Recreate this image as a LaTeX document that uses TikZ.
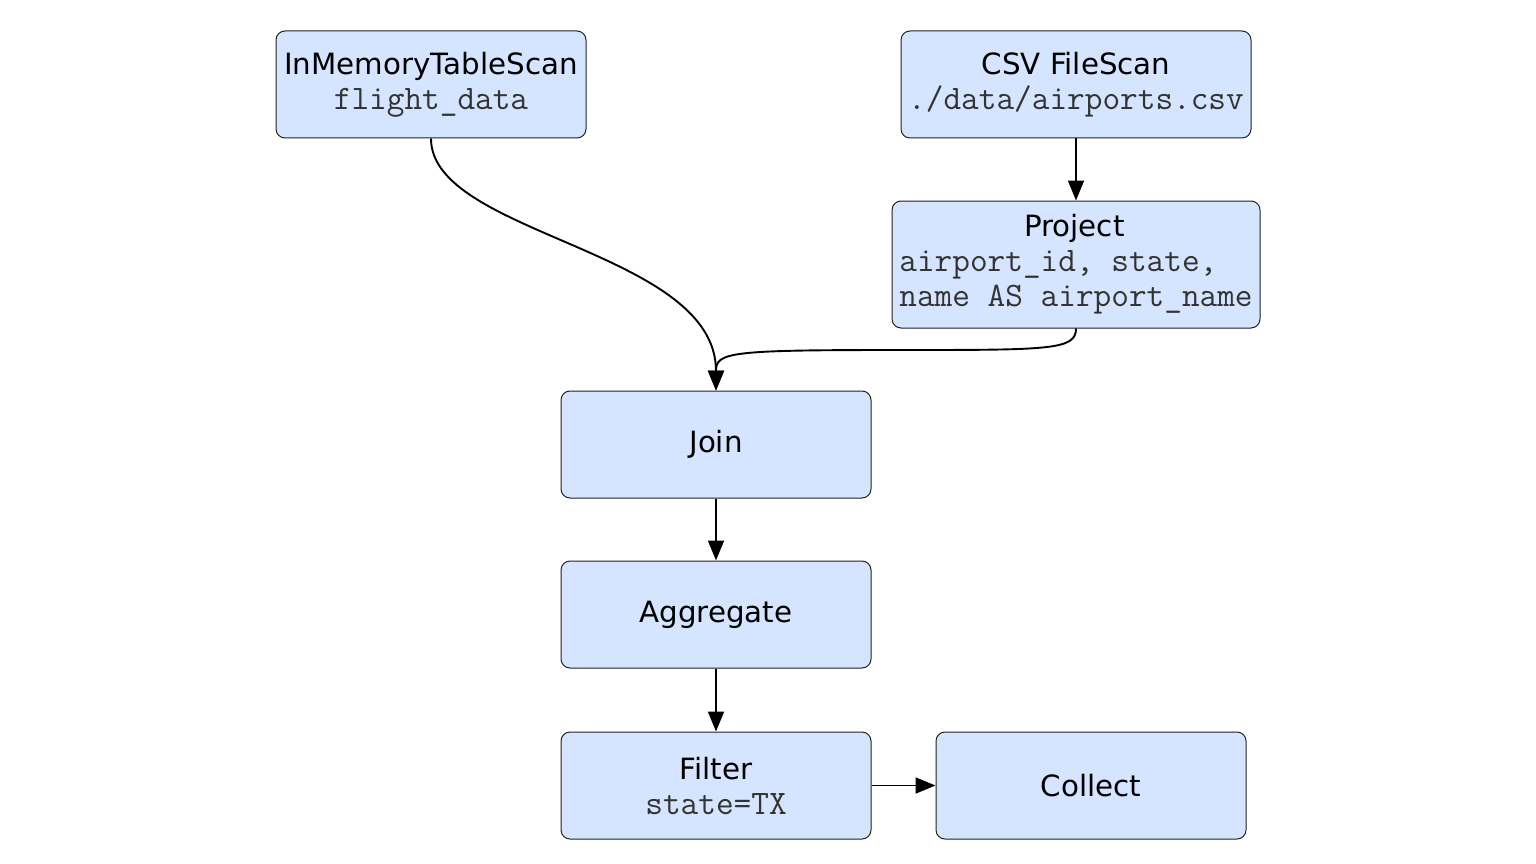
\documentclass[tikz,border=0pt]{standalone}
\usepackage{fontspec}
\newfontfamily\titlef{DejaVu Sans}
\usetikzlibrary{arrows.meta}
\definecolor{boxfill}{HTML}{D5E5FF}
\definecolor{boxline}{HTML}{222222}
\definecolor{monotext}{HTML}{333333}
\newcommand{\tf}{\titlef\fontsize{29.3}{35}\selectfont}
\newcommand{\mf}{\ttfamily\fontsize{34.3}{35}\selectfont\color{monotext}}
\begin{document}
\begin{tikzpicture}[x=1pt,y=-1pt,
  opbox/.style={draw=boxline, line width=1pt, fill=boxfill, rounded corners=9pt,
    minimum width=310pt, minimum height=107pt, inner sep=0pt, align=center, font=\tf},
  flow/.style={line width=1.9pt, -{Triangle[length=20pt,width=16pt]}}]
\useasboundingbox (0,0) rectangle (1536,864);
\fill[white] (0,0) rectangle (1536,864);
\node[opbox] (scan) at (431,84.5) {InMemoryTableScan\\{\mf flight\_data}};
\node[opbox, minimum width=350pt] (csv) at (1076,84.5) {CSV FileScan\\{\mf ./data/airports.csv}};
\node[opbox, minimum width=368pt, minimum height=127pt, align=left] (proj) at (1076,264.5)
  {\makebox[350pt]{Project}\\{\mf airport\_id, state,}\\{\mf name AS airport\_name}};
\node[opbox] (join) at (716,444.5) {Join};
\node[opbox] (agg) at (716,614.5) {Aggregate};
\node[opbox] (filter) at (716,785.5) {Filter\\{\mf state=TX}};
\node[opbox] (collect) at (1091,785.5) {Collect};
\draw[flow] (scan.south) .. controls (431,235) and (716,250) .. (join.north);
\draw[flow] (proj.south) .. controls (1076,350) and (1050,350) .. (900,350) .. controls (730,350) and (716,352) .. (join.north);
\draw[flow] (csv.south) -- (proj.north);
\draw[flow] (join.south) -- (agg.north);
\draw[flow] (agg.south) -- (filter.north);
\draw[flow] (filter.east) -- (collect.west);
\end{tikzpicture}
\end{document}
